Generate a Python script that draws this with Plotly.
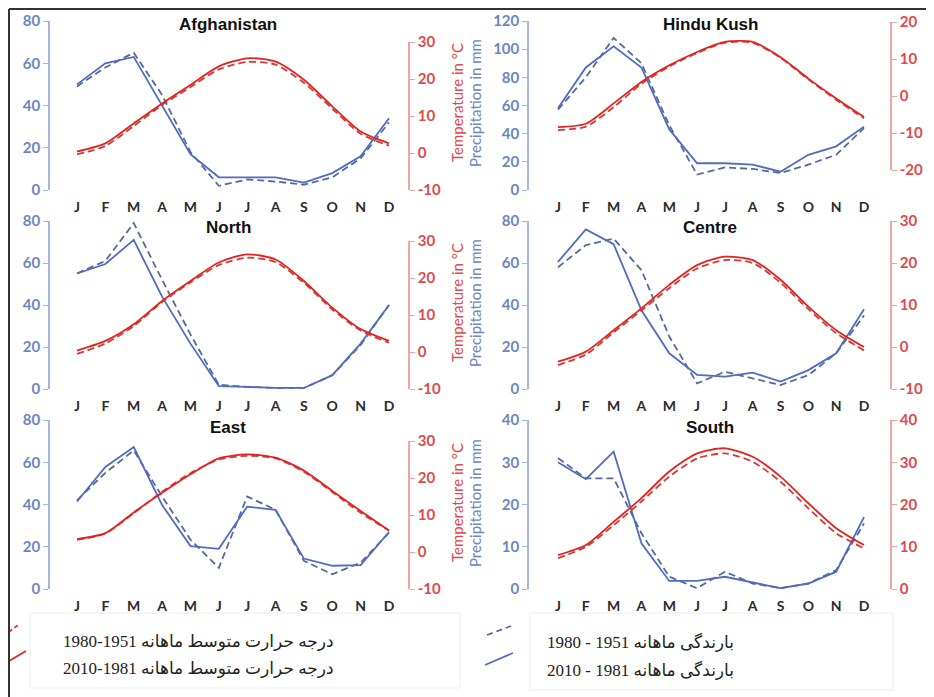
import plotly.graph_objects as go

# The page body adds an 8px offset, so the figure is sized to the visible area
OFF = 8
W, H = 934 - OFF, 697 - OFF

# ---------------- data ----------------
months = ["J", "F", "M", "A", "M", "J", "J", "A", "S", "O", "N", "D"]
regions = ["Afghanistan", "Hindu Kush", "North", "Centre", "East", "South"]

# precipitation (mm): 1951-1980 (dashed) and 1981-2010 (solid)
afg_prec_old = [49, 58, 65, 45, 18, 2, 5, 4, 2.5, 6, 15, 32]
afg_prec_new = [50, 60, 63, 40, 17, 6, 6, 6, 3.5, 8, 16, 34]
hk_prec_old = [57, 80, 108, 90, 46, 11, 16, 15, 12, 18, 25, 44]
hk_prec_new = [58, 87, 102, 87, 43, 19, 19, 18, 13, 25, 31, 45]
nor_prec_old = [55, 61, 79, 52, 26, 2, 1, 0.5, 0.5, 6.5, 21, 40]
nor_prec_new = [55, 59.5, 71, 44, 21.6, 1.4, 1, 0.5, 0.5, 6.6, 21.6, 40]
cen_prec_old = [58, 68.5, 71.6, 56.6, 25, 2.7, 8.2, 5, 1.9, 6.6, 17, 35]
cen_prec_new = [60.5, 76, 69, 37.5, 17, 6.7, 5.9, 7.8, 3.5, 9, 17, 38]
eas_prec_old = [42, 55, 65.6, 43.8, 23.4, 10, 43.8, 37.5, 13.3, 7, 12.5, 26.6]
eas_prec_new = [41.4, 57.8, 67.2, 39.8, 20.3, 19, 39, 37.5, 14.4, 11, 11.3, 27]
sou_prec_old = [31, 26.2, 26.2, 13.2, 2.9, 0.2, 4.1, 1.3, 0.2, 1.3, 4.5, 15.5]
sou_prec_new = [30, 26, 32.5, 10.8, 1.9, 1.9, 2.9, 1.5, 0.2, 1.3, 4.1, 17]

# mean monthly temperature (°C): 1951-1980 (dashed) and 1981-2010 (solid)
afg_temp_old = [-0.4, 1.9, 7.3, 13, 17.8, 22.6, 24.6, 23.9, 19, 12, 5.2, 2]
afg_temp_new = [0.4, 2.6, 8, 13.4, 18.4, 23.4, 25.6, 24.7, 19.8, 12.6, 5.8, 2.6]
hk_temp_old = [-9.2, -8.3, -3, 3.3, 8, 11.6, 14.4, 14.4, 10.3, 4.5, -1, -6]
hk_temp_new = [-8.4, -7.5, -2, 3.8, 8.3, 11.9, 14.6, 14.6, 10.5, 4.7, -0.7, -5.7]
nor_temp_old = [-0.5, 2.3, 7, 13.5, 18.8, 23.5, 25.5, 24.3, 18.7, 11.5, 5.8, 2.5]
nor_temp_new = [0.4, 3, 7.5, 13.8, 19.2, 24.2, 26.4, 25, 19.2, 12, 6.2, 3]
cen_temp_old = [-4.3, -1.8, 3.5, 8.7, 14, 18.7, 20.7, 20, 15.3, 9, 3.3, -0.8]
cen_temp_new = [-3.5, -1.1, 4, 9.2, 14.8, 19.5, 21.5, 20.7, 16, 9.6, 4, 0]
eas_temp_old = [3.3, 5, 10.5, 16.3, 21.3, 25, 26, 25.3, 21.7, 16.2, 10.6, 5.8]
eas_temp_new = [3.5, 5.1, 10.7, 16, 21, 25.3, 26.4, 25.5, 22, 16.5, 11.1, 5.8]
sou_temp_old = [7.3, 10, 15.1, 20.7, 26.6, 30.9, 32.1, 30.1, 25.4, 19.1, 13.2, 9.6]
sou_temp_new = [8, 10.4, 15.9, 21.5, 27.8, 32.1, 33.3, 31.3, 26.6, 20.3, 14.4, 10.4]

prec_ranges = [[0, 80], [0, 120], [0, 80], [0, 80], [0, 80], [0, 40]]
prec_dticks = [20, 20, 20, 20, 20, 10]
temp_ranges = [[-10, 30], [-20, 20], [-10, 30], [-10, 30], [-10, 30], [0, 40]]
temp_dtick = 10

legend_temp = ["1980-1951 درجه حرارت متوسط ماهانه", "2010-1981 درجه حرارت متوسط ماهانه"]
legend_prec = ["1980 - 1951 بارندگی ماهانه", "2010 - 1981 بارندگی ماهانه"]
axis_title_temp = "Temperature in °C"
axis_title_prec = "Precipitation in mm"

prec_old = [afg_prec_old, hk_prec_old, nor_prec_old, cen_prec_old, eas_prec_old, sou_prec_old]
prec_new = [afg_prec_new, hk_prec_new, nor_prec_new, cen_prec_new, eas_prec_new, sou_prec_new]
temp_old = [afg_temp_old, hk_temp_old, nor_temp_old, cen_temp_old, eas_temp_old, sou_temp_old]
temp_new = [afg_temp_new, hk_temp_new, nor_temp_new, cen_temp_new, eas_temp_new, sou_temp_new]

# ---------------- layout geometry (window pixels) ----------------
def fx(p):
    return (p - OFF) / W

def fy(p):
    return 1 - (p - OFF) / H

cols = [
    dict(m0=77, m11=389, dom=(58, 404), blue=49, red=409, title_x=228),
    dict(m0=558, m11=864, dom=(540, 882), blue=528, red=891, title_x=710),
]
rows = [dict(top=21, bot=190, title_y=25, mid=103),
        dict(top=221, bot=389, title_y=227, mid=303),
        dict(top=420, bot=589, title_y=427, mid=503)]
# red axis extent per panel (top px, bottom px)
red_px = [(42, 190), (22, 170), (241, 389), (221, 389), (441, 589), (420, 589)]

BLUE_SOLID = "#4f6cc0"
BLUE_DASH = "#56699a"
RED_SOLID = "#e3231f"
RED_DASH = "#d43a36"
BLUE_AXIS = "#a5b5dd"
RED_AXIS = "#eca4a4"
BLUE_TXT = "#6c86c3"
RED_TXT = "#e04a4a"
TICKFONT = "Lato"

def tick_list(rng, dt):
    vals = list(range(int(rng[0]), int(rng[1]) + 1, dt))
    return vals, [str(v) for v in vals]

fig = go.Figure()
layout = dict()
annotations = []
shapes = []

x_idx = list(range(12))

for i in range(6):
    c = cols[i % 2]
    r = rows[i // 2]
    step = (c["m11"] - c["m0"]) / 11.0
    xr = [(c["dom"][0] - c["m0"]) / step, 11 + (c["dom"][1] - c["m11"]) / step]
    xdom = [fx(c["dom"][0]), fx(c["dom"][1])]

    px_n = 2 * i + 1
    tx_n = 2 * i + 2
    xa_p = "xaxis" if px_n == 1 else f"xaxis{px_n}"
    ya_p = "yaxis" if px_n == 1 else f"yaxis{px_n}"
    xa_t = f"xaxis{tx_n}"
    ya_t = f"yaxis{tx_n}"
    xref_p = "x" if px_n == 1 else f"x{px_n}"
    yref_p = "y" if px_n == 1 else f"y{px_n}"
    xref_t = f"x{tx_n}"
    yref_t = f"y{tx_n}"

    pv, pt = tick_list(prec_ranges[i], prec_dticks[i])
    tv, tt = tick_list(temp_ranges[i], temp_dtick)

    layout[xa_p] = dict(domain=xdom, range=xr, anchor=yref_p, showgrid=False, zeroline=False,
                        showline=False, tickmode="array", tickvals=x_idx, ticktext=months,
                        ticks="outside", ticklen=4, tickcolor="rgba(0,0,0,0)",
                        tickfont=dict(family=TICKFONT, size=14, color="#2b2b2b", weight="bold"))
    layout[ya_p] = dict(domain=[fy(r["bot"]), fy(r["top"])], range=prec_ranges[i], anchor="free",
                        position=fx(c["blue"]), side="left", showgrid=False, zeroline=False,
                        showline=True, linecolor=BLUE_AXIS, linewidth=1.5,
                        ticks="outside", ticklen=5, tickcolor=BLUE_AXIS, tickwidth=1.2,
                        tickmode="array", tickvals=pv, ticktext=pt,
                        tickfont=dict(family=TICKFONT, size=15, color=BLUE_TXT, weight="bold"))
    rt, rb = red_px[i]
    layout[xa_t] = dict(domain=xdom, range=xr, anchor=yref_t, visible=False)
    layout[ya_t] = dict(domain=[fy(rb), fy(rt)], range=temp_ranges[i], anchor="free",
                        position=fx(c["red"]), side="right", showgrid=False, zeroline=False,
                        showline=True, linecolor=RED_AXIS, linewidth=1.5,
                        ticks="outside", ticklen=5, tickcolor=RED_AXIS, tickwidth=1.2,
                        tickmode="array", tickvals=tv, ticktext=tt,
                        tickfont=dict(family=TICKFONT, size=15, color=RED_TXT, weight="bold"))

    fig.add_trace(go.Scatter(x=x_idx, y=prec_old[i], mode="lines", xaxis=xref_p, yaxis=yref_p,
                             line=dict(color=BLUE_DASH, width=1.8, dash="7px,4px"),
                             showlegend=False, hoverinfo="skip"))
    fig.add_trace(go.Scatter(x=x_idx, y=prec_new[i], mode="lines", xaxis=xref_p, yaxis=yref_p,
                             line=dict(color=BLUE_SOLID, width=1.8),
                             showlegend=False, hoverinfo="skip"))
    fig.add_trace(go.Scatter(x=x_idx, y=temp_old[i], mode="lines", xaxis=xref_t, yaxis=yref_t,
                             line=dict(color=RED_DASH, width=1.8, dash="7px,4px", shape="spline",
                                       smoothing=0.7),
                             showlegend=False, hoverinfo="skip"))
    fig.add_trace(go.Scatter(x=x_idx, y=temp_new[i], mode="lines", xaxis=xref_t, yaxis=yref_t,
                             line=dict(color=RED_SOLID, width=1.8, shape="spline", smoothing=0.7),
                             showlegend=False, hoverinfo="skip"))

    annotations.append(dict(text=regions[i], x=fx(c["title_x"]), y=fy(r["title_y"]),
                            xref="paper", yref="paper", showarrow=False,
                            xanchor="center", yanchor="middle",
                            font=dict(family="Liberation Sans", size=17, color="#111111",
                                      weight="bold")))

# axis titles in the middle column
for r in rows:
    annotations.append(dict(text=axis_title_temp, x=fx(457), y=fy(r["mid"]), xref="paper",
                            yref="paper", showarrow=False, textangle=-90,
                            xanchor="center", yanchor="middle",
                            font=dict(family=TICKFONT, size=15, color=RED_TXT)))
    annotations.append(dict(text=axis_title_prec, x=fx(475), y=fy(r["mid"]), xref="paper",
                            yref="paper", showarrow=False, textangle=-90,
                            xanchor="center", yanchor="middle",
                            font=dict(family=TICKFONT, size=15, color=BLUE_TXT)))

# legend texts
LEG_FONT = dict(family="Liberation Serif, DejaVu Sans", size=17, color="#222222")
for k, yy in enumerate([641, 668]):
    annotations.append(dict(text=legend_temp[k], x=fx(336), y=fy(yy), xref="paper", yref="paper",
                            showarrow=False, xanchor="right", yanchor="middle", font=LEG_FONT))
for k, yy in enumerate([642, 670]):
    annotations.append(dict(text=legend_prec[k], x=fx(545), y=fy(yy), xref="paper", yref="paper",
                            showarrow=False, xanchor="left", yanchor="middle", font=LEG_FONT))

def seg(x0, y0, x1, y1, color, width=1.8, dash="solid"):
    return dict(type="line", xref="paper", yref="paper", x0=fx(x0), y0=fy(y0), x1=fx(x1),
                y1=fy(y1), line=dict(color=color, width=width, dash=dash))

# legend boxes (faint)
shapes.append(dict(type="rect", xref="paper", yref="paper", x0=fx(30), x1=fx(460),
                   y0=fy(688), y1=fy(613), line=dict(color="#ededed", width=1)))
shapes.append(dict(type="rect", xref="paper", yref="paper", x0=fx(530), x1=fx(893),
                   y0=fy(690), y1=fy(613), line=dict(color="#ededed", width=1)))
# legend line samples
shapes.append(seg(9, 632, 18, 625, RED_DASH, 1.8, "4px,3px"))
shapes.append(seg(9, 661, 26, 651, RED_SOLID, 1.8))
shapes.append(seg(487, 635, 511, 626, BLUE_DASH, 1.8, "6px,4px"))
shapes.append(seg(485, 665, 513, 653, BLUE_SOLID, 1.8))
# outer frame (left and top edges)
shapes.append(seg(9, 9, 9, 697, "#333333", 2))
shapes.append(seg(9, 9, 934, 9, "#333333", 2))

fig.update_layout(**layout)
fig.update_layout(width=W, height=H,
                  margin=dict(l=0, r=0, t=0, b=0, pad=0, autoexpand=False),
                  paper_bgcolor="white", plot_bgcolor="rgba(0,0,0,0)",
                  showlegend=False, annotations=annotations, shapes=shapes)

fig.write_html("out.html")
